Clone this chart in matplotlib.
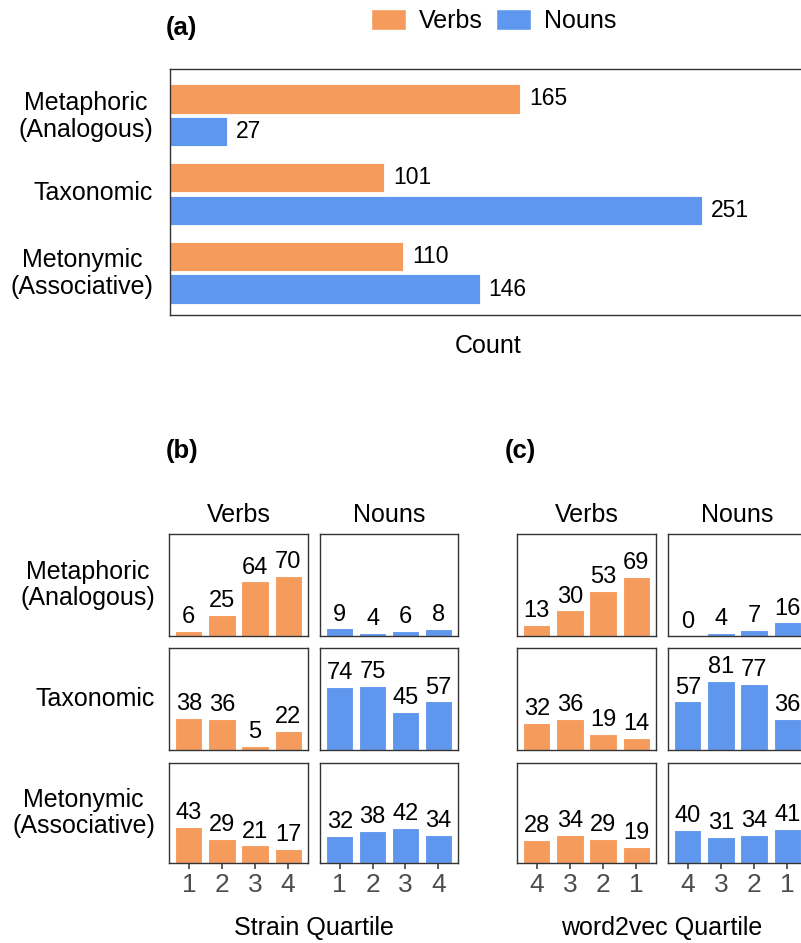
import numpy as np
import matplotlib
matplotlib.use("Agg")
import matplotlib.pyplot as plt
from matplotlib.patches import Patch

plt.rcParams["font.family"] = ["Liberation Sans", "DejaVu Sans"]

# ---- data -------------------------------------------------------------
categories = ["Metaphoric\n(Analogous)", "Taxonomic", "Metonymic\n(Associative)"]
verbs_total = [165, 101, 110]
nouns_total = [27, 251, 146]

strain_ticks = ["1", "2", "3", "4"]
strain_verbs = [[6, 25, 64, 70], [38, 36, 5, 22], [43, 29, 21, 17]]
strain_nouns = [[9, 4, 6, 8], [74, 75, 45, 57], [32, 38, 42, 34]]

w2v_ticks = ["4", "3", "2", "1"]
w2v_verbs = [[13, 30, 53, 69], [32, 36, 19, 14], [28, 34, 29, 19]]
w2v_nouns = [[0, 4, 7, 16], [57, 81, 77, 36], [40, 31, 34, 41]]

ORANGE = "#F59B5C"
BLUE = "#6097EE"
FRAME = "#333333"
TICKTXT = "#4D4D4D"

W, H = 801, 943
fig = plt.figure(figsize=(W / 100, H / 100), dpi=100)


def px_rect(x0, y0, x1, y1):
    return [x0 / W, 1 - y1 / H, (x1 - x0) / W, (y1 - y0) / H]


def fx(x):
    return x / W


def fy(y):
    return 1 - y / H


def style_frame(ax):
    for s in ax.spines.values():
        s.set_color(FRAME)
        s.set_linewidth(1.0)


# ---- panel (a): totals ---------------------------------------------------
ax = fig.add_axes(px_rect(170, 69, 806, 315))
ypos = np.arange(len(categories))
off = 0.21
ax.barh(ypos - off, verbs_total, height=0.37, color=ORANGE,
        edgecolor="white", linewidth=0.6)
ax.barh(ypos + off, nouns_total, height=0.37, color=BLUE,
        edgecolor="white", linewidth=0.6)
for yy, v in zip(ypos, verbs_total):
    ax.annotate(str(v), (v, yy - off), xytext=(6.5, 0), textcoords="offset points",
                ha="left", va="center", fontsize=16.5)
for yy, v in zip(ypos, nouns_total):
    ax.annotate(str(v), (v, yy + off), xytext=(6.5, 0), textcoords="offset points",
                ha="left", va="center", fontsize=16.5)
ax.set_xlim(0, 300)
ax.set_ylim(2.541, -0.592)
ax.set_xticks([])
ax.set_yticks(ypos - 0.04, categories)
ax.tick_params(axis="y", length=0, pad=12, labelsize=18)
for lab in ax.get_yticklabels():
    lab.set_multialignment("center")
    lab.set_linespacing(1.15)
ax.set_xlabel("Count", fontsize=18, labelpad=14)
style_frame(ax)

fig.text(fx(166), fy(35), "(a)", fontsize=18.5, fontweight="bold", va="baseline")
fig.legend(handles=[Patch(facecolor=ORANGE, edgecolor="white"),
                    Patch(facecolor=BLUE, edgecolor="white")],
           labels=["Verbs", "Nouns"], ncol=2, loc="center",
           bbox_to_anchor=(fx(493.5), fy(21)), frameon=False, fontsize=18,
           handlelength=1.4, handleheight=0.9, handletextpad=0.5,
           columnspacing=0.55, borderpad=0, borderaxespad=0)

# ---- panels (b) and (c): quartile facets ---------------------------------
rows = [(534, 636), (648, 750), (763, 863)]
row_labels = ["Metaphoric\n(Analogous)", "Taxonomic", "Metonymic\n(Associative)"]


def facet(rect, values, color, ticks, bottom):
    a = fig.add_axes(px_rect(*rect))
    x = np.arange(1, 5)
    a.bar(x, values, width=0.82, color=color, edgecolor="white", linewidth=0.8)
    for xi, v in zip(x, values):
        a.annotate(str(v), (xi, v), xytext=(0, 2), textcoords="offset points",
                   ha="center", va="bottom", fontsize=17)
    a.set_xlim(0.4, 4.6)
    a.set_ylim(0, 119.5)
    a.set_yticks([])
    if bottom:
        a.set_xticks(x, ticks)
        a.tick_params(axis="x", length=4.5, width=1.1, color=FRAME,
                      labelcolor=TICKTXT, labelsize=19, pad=2.5)
    else:
        a.set_xticks([])
    style_frame(a)
    return a


def facet_block(cols, verbs, nouns, ticks, xlabel, tag, tag_x):
    for r, (y0, y1) in enumerate(rows):
        last = r == len(rows) - 1
        facet((cols[0][0], y0, cols[0][1], y1), verbs[r], ORANGE, ticks, last)
        facet((cols[1][0], y0, cols[1][1], y1), nouns[r], BLUE, ticks, last)
    for (c0, c1), name in zip(cols, ["Verbs", "Nouns"]):
        fig.text(fx((c0 + c1) / 2), fy(522), name, ha="center", va="baseline",
                 fontsize=18)
    fig.text(fx((cols[0][0] + cols[1][1]) / 2), fy(935), xlabel, ha="center",
             va="baseline", fontsize=18)
    fig.text(fx(tag_x), fy(458), tag, fontsize=18.5, fontweight="bold",
             va="baseline")


facet_block([(169, 308), (320, 458)], strain_verbs, strain_nouns, strain_ticks,
            "Strain Quartile", "(b)", 166)
facet_block([(517, 656), (668, 807)], w2v_verbs, w2v_nouns, w2v_ticks,
            "word2vec Quartile", "(c)", 505)

for (y0, y1), lab in zip(rows, row_labels):
    fig.text(fx(155), fy((y0 + y1) / 2), lab, ha="right", va="center",
             multialignment="center", fontsize=18, linespacing=1.1)

fig.savefig("out.png", dpi=100, facecolor="white")
